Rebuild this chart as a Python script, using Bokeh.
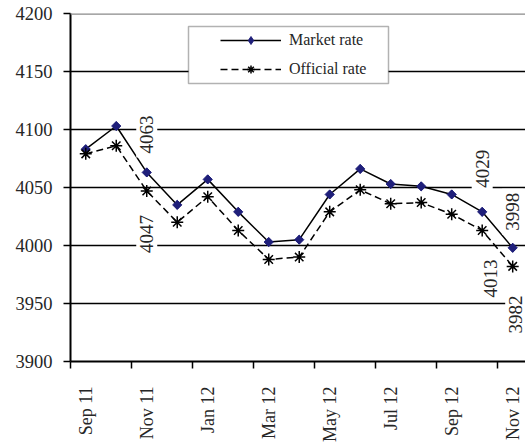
from math import pi
from bokeh.plotting import figure
from bokeh.models import (FixedTicker, Range1d, Span, Label, BoxAnnotation,
                          Legend, LegendItem)
from bokeh.embed import file_html
from bokeh.resources import INLINE

# ---- data ----
months = ["Sep 11", "Oct 11", "Nov 11", "Dec 11", "Jan 12", "Feb 12", "Mar 12",
          "Apr 12", "May 12", "Jun 12", "Jul 12", "Aug 12", "Sep 12", "Oct 12",
          "Nov 12"]
market = [4083, 4103, 4063, 4035, 4057, 4029, 4003, 4005, 4044, 4066, 4053,
          4051, 4044, 4029, 3998]
official = [4079, 4086, 4047, 4020, 4042, 4013, 3988, 3990, 4029, 4048, 4036,
            4037, 4027, 4013, 3982]
y_ticks = [3900, 3950, 4000, 4050, 4100, 4150, 4200]
labelled_points = [2, 13, 14]
series_names = ["Market rate", "Official rate"]

# ---- styles ----
FONT = "Liberation Serif"
NAVY = "#1f1f7a"
TXT = "#262626"
above_offsets = [15, 20, 13]
below_offsets = [20, 25, 25]
below_xoffsets = [0, 8, 3]

x = list(range(len(months)))

p = figure(width=525, height=444, output_backend="svg", toolbar_location=None,
           x_range=Range1d(-0.5, 14.42), y_range=Range1d(y_ticks[0], y_ticks[-1]),
           min_border_left=70, min_border_right=0, min_border_top=13,
           min_border_bottom=82)
p.outline_line_color = None
p.background_fill_color = "white"
p.border_fill_color = "white"

# grid
p.xgrid.visible = False
p.ygrid.grid_line_color = "black"
p.ygrid.grid_line_width = 1.5
p.add_layout(Span(location=y_ticks[-1], dimension="width", line_color="#8a8a8a",
                  line_width=2.5))

# y axis
p.yaxis.ticker = FixedTicker(ticks=y_ticks)
p.yaxis.axis_line_color = "black"
p.yaxis.axis_line_width = 2
p.yaxis.major_tick_out = 7
p.yaxis.major_tick_in = 0
p.yaxis.major_tick_line_width = 1.5
p.yaxis.minor_tick_line_color = None
p.yaxis.major_label_standoff = 11
p.yaxis.major_label_text_font = FONT
p.yaxis.major_label_text_font_size = "18.5px"
p.yaxis.major_label_text_color = TXT

# x axis: labels on every other month, tick marks between months
lab_idx = list(range(0, len(months), 2))
p.xaxis.ticker = FixedTicker(ticks=lab_idx, minor_ticks=[i - 0.5 for i in lab_idx])
p.xaxis.major_label_overrides = {i: months[i] for i in lab_idx}
p.xaxis.axis_line_color = "black"
p.xaxis.axis_line_width = 2
p.xaxis.major_tick_out = 0
p.xaxis.major_tick_in = 0
p.xaxis.major_tick_line_color = None
p.xaxis.minor_tick_out = 7
p.xaxis.minor_tick_in = 0
p.xaxis.minor_tick_line_color = "black"
p.xaxis.minor_tick_line_width = 1.5
p.xaxis.major_label_orientation = pi / 2
p.xaxis.major_label_standoff = 18
p.xaxis.major_label_text_font = FONT
p.xaxis.major_label_text_font_size = "18px"
p.xaxis.major_label_text_color = TXT

# series
l1 = p.line(x, market, line_color="black", line_width=1.5)
# diamond key (hidden under the rotated squares; legend markers are unrotated)
s1_key = p.scatter(x, market, marker="diamond", size=8.5, fill_color=NAVY,
                   line_color=NAVY)
s1 = p.scatter(x, market, marker="square", angle=pi / 4, size=6.5,
               fill_color=NAVY, line_color=NAVY)
l2 = p.line(x, official, line_color="black", line_width=1.5, line_dash="7 4")
s2 = p.scatter(x, official, marker="asterisk", size=12, line_color="black",
               line_width=1.5)

# data labels
for k, i in enumerate(labelled_points):
    p.add_layout(Label(x=i, y=market[i], text=str(market[i]), angle=pi / 2,
                       text_align="left", text_baseline="middle",
                       y_offset=above_offsets[k], text_font=FONT,
                       text_font_size="19px", text_color=TXT,
                       background_fill_color="white", padding=4))
    p.add_layout(Label(x=i, y=official[i], text=str(official[i]), angle=pi / 2,
                       text_align="right", text_baseline="middle",
                       x_offset=below_xoffsets[k], y_offset=-below_offsets[k],
                       text_font=FONT, text_font_size="19px", text_color=TXT,
                       background_fill_color="white", padding=4))

# legend box + legend
p.add_layout(BoxAnnotation(left=188, right=388, top=26, bottom=83,
                           left_units="canvas", right_units="canvas",
                           top_units="canvas", bottom_units="canvas",
                           fill_color="white", fill_alpha=1.0,
                           line_color="black", line_width=1.5))
legend = Legend(items=[LegendItem(label=series_names[0], renderers=[l1, s1_key]),
                       LegendItem(label=series_names[1], renderers=[l2, s2])],
                location=(150, 282), padding=0, spacing=9, margin=0,
                glyph_width=61, glyph_height=20, label_height=20,
                label_standoff=8, border_line_alpha=0,
                background_fill_alpha=0, label_text_font=FONT,
                label_text_font_size="16px", label_text_color=TXT)
p.add_layout(legend, "center")

open("out.html", "w").write(file_html(p, INLINE))
